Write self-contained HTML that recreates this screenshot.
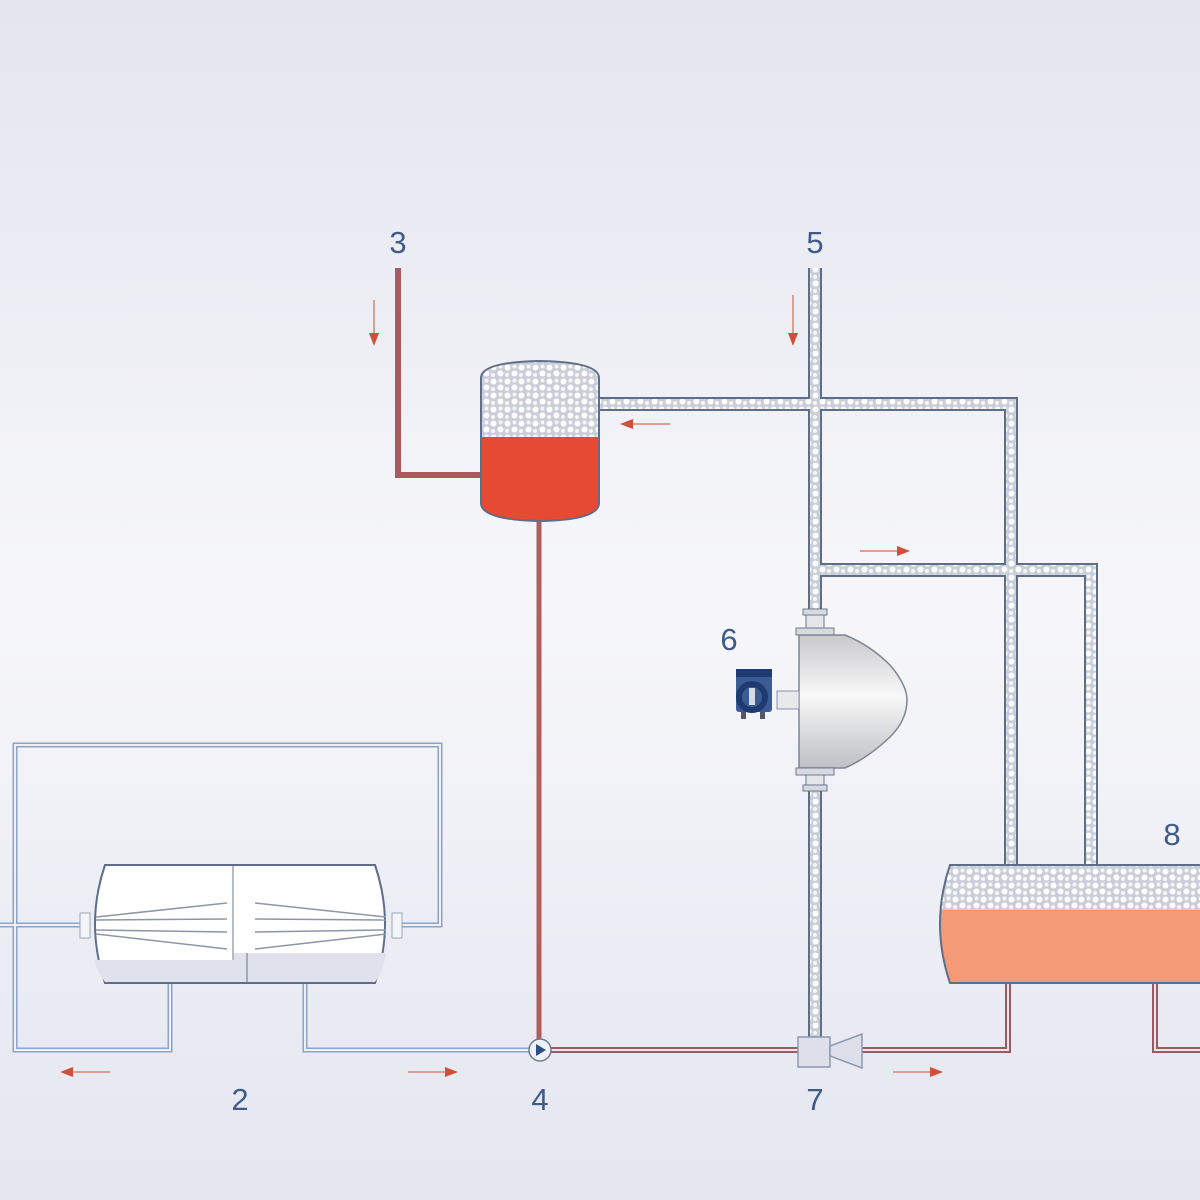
<!DOCTYPE html>
<html><head><meta charset="utf-8"><style>
html,body{margin:0;padding:0;}
body{width:1200px;height:1200px;overflow:hidden;}
svg{display:block;}
text{font-family:"Liberation Sans",sans-serif;font-size:31px;fill:#3f5b88;}
</style></head><body>
<svg width="1200" height="1200" viewBox="0 0 1200 1200" xmlns="http://www.w3.org/2000/svg">
<defs>
<linearGradient id="bg" x1="0" y1="0" x2="0" y2="1">
<stop offset="0" stop-color="#e3e5ef"/><stop offset="0.5" stop-color="#f7f7fa"/><stop offset="1" stop-color="#e4e6f0"/>
</linearGradient>
<pattern id="dots" width="14" height="14" patternUnits="userSpaceOnUse">
<rect width="14" height="14" fill="#c9ced8"/>
<circle cx="3.5" cy="3.5" r="3" fill="#fff"/><circle cx="10.5" cy="9.5" r="3" fill="#fff"/><circle cx="3" cy="11" r="2" fill="#f6f6f6"/><circle cx="10.5" cy="2.5" r="2" fill="#f6f6f6"/>
</pattern>
<linearGradient id="fm" x1="0" y1="0" x2="0" y2="1">
<stop offset="0" stop-color="#c9c9cd"/><stop offset="0.45" stop-color="#f8f8f8"/><stop offset="1" stop-color="#bfc0c4"/>
</linearGradient>
<clipPath id="tankclip"><path d="M950,865 L1210,865 L1210,983 L950,983 Q930,924 950,865 Z"/></clipPath>
<clipPath id="drumclip"><path d="M481,378 Q481,362 540,361 Q599,362 599,378 L599,503 Q599,520 540,521 Q481,520 481,503 Z"/></clipPath>
</defs>
<rect width="1200" height="1200" fill="url(#bg)"/>

<g fill="none" stroke="#8fa3c4" stroke-width="5">
<path d="M0,925 L82,925"/>
<path d="M402,925 L440,925 L440,745 L15,745 L15,1050 L170,1050 L170,983"/>
<path d="M305,983 L305,1050 L530,1050"/>
</g>
<g fill="none" stroke="#eef0f6" stroke-width="2">
<path d="M0,925 L82,925"/>
<path d="M402,925 L440,925 L440,745 L15,745 L15,1050 L170,1050 L170,983"/>
<path d="M305,983 L305,1050 L530,1050"/>
</g>

<path d="M105,865 L375,865 Q395,924 375,983 L105,983 Q85,924 105,865 Z" fill="#fff" stroke="#5d6e88" stroke-width="2"/>
<path d="M94,960 L233,960 L233,953 L386,953 Q384,970 375,982 L105,982 Q97,972 94,960 Z" fill="#dfe2ec"/>
<line x1="233" y1="866" x2="233" y2="960" stroke="#b5bcc8" stroke-width="2"/>
<line x1="247" y1="953" x2="247" y2="982" stroke="#8e98aa" stroke-width="1.5"/>
<rect x="80" y="913" width="10" height="25" fill="#f4f5f8" stroke="#9aa6b8" stroke-width="1"/>
<rect x="392" y="913" width="10" height="25" fill="#f4f5f8" stroke="#9aa6b8" stroke-width="1"/>
<g stroke="#8e96a4" stroke-width="1.5">
<line x1="96" y1="917" x2="227" y2="903"/><line x1="96" y1="920" x2="227" y2="919"/><line x1="96" y1="930" x2="227" y2="932"/><line x1="96" y1="934" x2="227" y2="949"/>
<line x1="255" y1="903" x2="386" y2="917"/><line x1="255" y1="919" x2="386" y2="920"/><line x1="255" y1="932" x2="386" y2="930"/><line x1="255" y1="949" x2="386" y2="934"/>
</g>

<path d="M398,268 L398,475 L481,475" fill="none" stroke="#a75b5d" stroke-width="6"/>
<path d="M539,520 L539,1050" fill="none" stroke="#b05d5d" stroke-width="5"/>
<g fill="none" stroke="#9a5a64" stroke-width="6">
<path d="M550,1050 L800,1050"/><path d="M862,1050 L1008,1050 L1008,983"/><path d="M1155,983 L1155,1050 L1210,1050"/>
</g>
<g fill="none" stroke="#f0e4ea" stroke-width="2">
<path d="M550,1050 L800,1050"/><path d="M862,1050 L1008,1050 L1008,983"/><path d="M1155,983 L1155,1050 L1210,1050"/>
</g>

<g fill="none" stroke="#5d6e88" stroke-width="14" stroke-linejoin="miter">
<path d="M599,404 L1011,404 L1011,866"/>
<path d="M815,570 L1091,570 L1091,866"/>
<path d="M815,268 L815,615"/>
<path d="M815,785 L815,1038"/>
</g>
<g fill="none" stroke="url(#dots)" stroke-width="10" stroke-linejoin="miter">
<path d="M599,404 L1011,404 L1011,866"/>
<path d="M815,570 L1091,570 L1091,866"/>
<path d="M815,268 L815,615"/>
<path d="M815,785 L815,1038"/>
</g>

<g clip-path="url(#drumclip)">
<rect x="478" y="358" width="125" height="80" fill="url(#dots)"/>
<rect x="478" y="437" width="125" height="90" fill="#e64a33"/>
</g>
<path d="M481,378 Q481,362 540,361 Q599,362 599,378 L599,503 Q599,520 540,521 Q481,520 481,503 Z" fill="none" stroke="#5d6e88" stroke-width="2"/>

<g clip-path="url(#tankclip)">
<rect x="930" y="860" width="280" height="50" fill="url(#dots)"/>
<rect x="930" y="910" width="280" height="80" fill="#f49a76"/>
</g>
<path d="M1210,865 L950,865 Q930,924 950,983 L1210,983" fill="none" stroke="#5d6e88" stroke-width="2"/>

<rect x="803" y="609" width="24" height="6" fill="#d8dae0" stroke="#6d7890" stroke-width="1"/>
<rect x="806" y="615" width="18" height="13" fill="#e4e6ea" stroke="#6d7890" stroke-width="1"/>
<rect x="796" y="628" width="38" height="7" fill="#d8dae0" stroke="#6d7890" stroke-width="1"/>
<path d="M799,635 L845,635 Q870,645 890,665 Q907,685 907,700 Q907,720 890,737 Q868,758 845,768 L799,768 Z" fill="url(#fm)" stroke="#7d8596" stroke-width="1.5"/>
<rect x="796" y="768" width="38" height="7" fill="#d8dae0" stroke="#6d7890" stroke-width="1"/>
<rect x="806" y="775" width="18" height="10" fill="#e4e6ea" stroke="#6d7890" stroke-width="1"/>
<rect x="803" y="785" width="24" height="6" fill="#d8dae0" stroke="#6d7890" stroke-width="1"/>
<rect x="777" y="691" width="22" height="18" fill="#e8e9ec" stroke="#8a93a4" stroke-width="1"/>
<rect x="736" y="669" width="36" height="43" rx="3" fill="#3b5b95"/>
<rect x="736" y="669" width="36" height="8" fill="#1f3a6e"/>
<circle cx="752" cy="697" r="13" fill="none" stroke="#1f3a6e" stroke-width="6"/>
<rect x="749" y="688" width="6" height="17" fill="#d6dbe6"/>
<rect x="741" y="712" width="5" height="7" fill="#556"/><rect x="760" y="712" width="5" height="7" fill="#556"/>

<rect x="798" y="1037" width="32" height="30" fill="#dde0ea" stroke="#8e98b0" stroke-width="1.5"/>
<path d="M830,1046 L862,1034 L862,1068 L830,1056 Z" fill="#dde0ea" stroke="#8e98b0" stroke-width="1.5"/>

<circle cx="540" cy="1050" r="11" fill="#eef0f6" stroke="#6d7a92" stroke-width="1.5"/>
<path d="M536,1044 L546,1050 L536,1056 Z" fill="#2f4d80"/>

<g stroke="#d9836f" stroke-width="1.5" fill="#d24e3a">
<line x1="374" y1="300" x2="374" y2="336"/><path d="M369,333 L379,333 L374,346 Z" stroke="none"/>
<line x1="793" y1="295" x2="793" y2="336"/><path d="M788,333 L798,333 L793,346 Z" stroke="none"/>
<line x1="670" y1="424" x2="630" y2="424"/><path d="M633,419 L633,429 L620,424 Z" stroke="none"/>
<line x1="860" y1="551" x2="900" y2="551"/><path d="M897,546 L897,556 L910,551 Z" stroke="none"/>
<line x1="110" y1="1072" x2="70" y2="1072"/><path d="M73,1067 L73,1077 L60,1072 Z" stroke="none"/>
<line x1="408" y1="1072" x2="448" y2="1072"/><path d="M445,1067 L445,1077 L458,1072 Z" stroke="none"/>
<line x1="893" y1="1072" x2="933" y2="1072"/><path d="M930,1067 L930,1077 L943,1072 Z" stroke="none"/>
</g>

<text x="398" y="253" text-anchor="middle">3</text>
<text x="815" y="253" text-anchor="middle">5</text>
<text x="729" y="650" text-anchor="middle">6</text>
<text x="1172" y="845" text-anchor="middle">8</text>
<text x="240" y="1110" text-anchor="middle">2</text>
<text x="540" y="1110" text-anchor="middle">4</text>
<text x="815" y="1110" text-anchor="middle">7</text>
</svg>
</body></html>
